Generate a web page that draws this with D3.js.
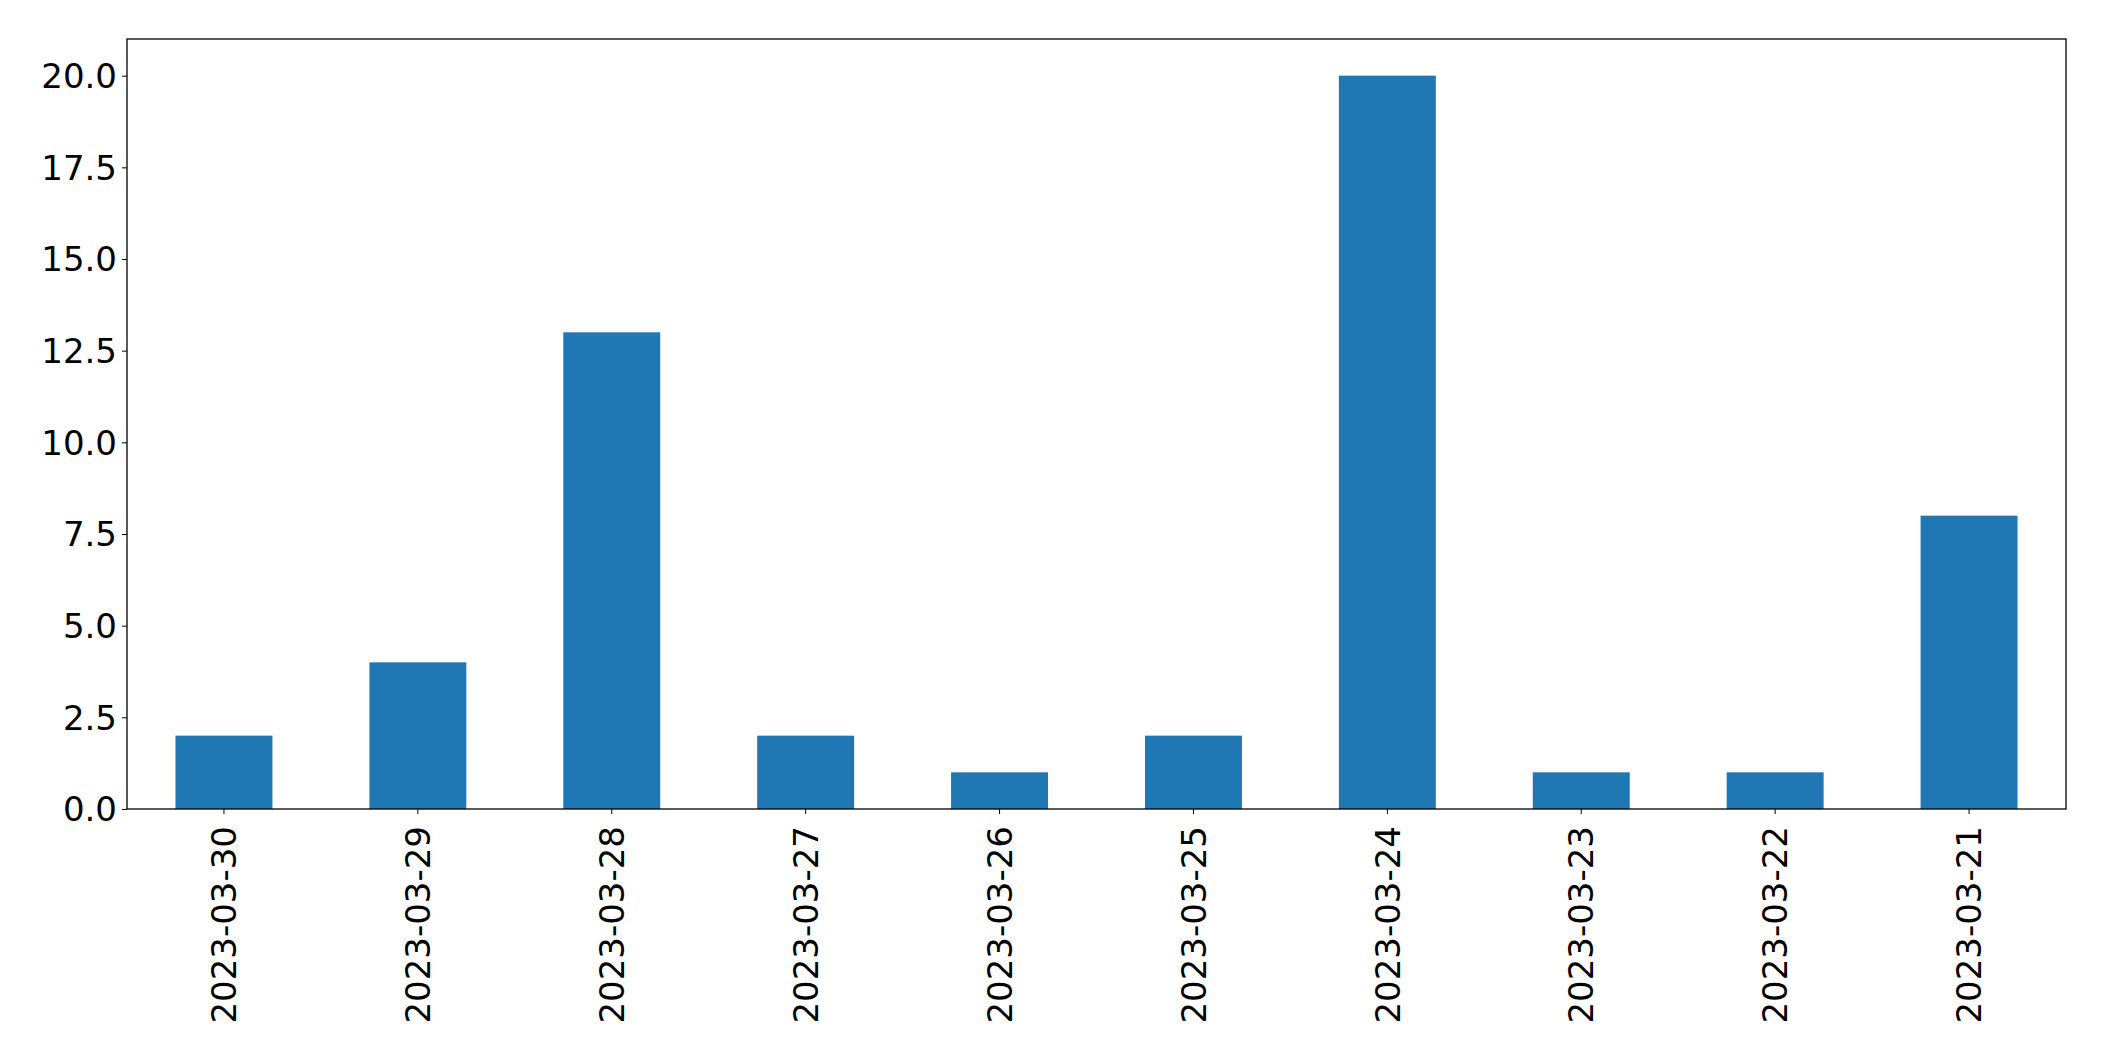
<!DOCTYPE html>
<html>
<head>
<meta charset="utf-8">
<script src="https://cdn.jsdelivr.net/npm/d3@7"></script>
<style>
  body { margin: 0; background: #fff; }
  svg text { font-family: "DejaVu Sans", sans-serif; }
</style>
</head>
<body>
<svg width="2104" height="1061"></svg>
<script>
// data
const dates = ["2023-03-30", "2023-03-29", "2023-03-28", "2023-03-27", "2023-03-26",
               "2023-03-25", "2023-03-24", "2023-03-23", "2023-03-22", "2023-03-21"];
const counts = [2, 4, 13, 2, 1, 2, 20, 1, 1, 8];
const yTicks = [0, 2.5, 5, 7.5, 10, 12.5, 15, 17.5, 20];

const width = 2104, height = 1061;
const margin = {top: 39, right: 38, bottom: 252, left: 127};
const fontSize = 34;

const svg = d3.select("svg");

const x = d3.scaleBand()
    .domain(dates)
    .range([margin.left, width - margin.right])
    .paddingInner(0.5)
    .paddingOuter(0.25);

const y = d3.scaleLinear()
    .domain([0, 21])
    .range([height - margin.bottom, margin.top]);

// bars
svg.selectAll(".bar")
    .data(counts)
    .enter().append("rect")
    .attr("class", "bar")
    .attr("x", (d, i) => x(dates[i]))
    .attr("y", d => y(d))
    .attr("width", x.bandwidth())
    .attr("height", d => y(0) - y(d))
    .attr("fill", "#1f77b4");

// y axis
const yAxis = svg.append("g")
    .attr("transform", `translate(${margin.left},0)`)
    .call(d3.axisLeft(y).tickValues(yTicks).tickFormat(d3.format(".1f")).tickSize(5).tickPadding(5));
yAxis.select(".domain").remove();
yAxis.selectAll("text").attr("font-size", fontSize).attr("fill", "#000").attr("dy", "0.35em");
yAxis.selectAll("line").attr("stroke", "#000");

// x axis
const xAxis = svg.append("g")
    .attr("transform", `translate(0,${height - margin.bottom})`)
    .call(d3.axisBottom(x).tickSize(5).tickPadding(0));
xAxis.select(".domain").remove();
xAxis.selectAll("line").attr("stroke", "#000");
xAxis.selectAll("text")
    .attr("font-size", fontSize)
    .attr("fill", "#000")
    .attr("text-anchor", "end")
    .attr("dy", null)
    .attr("y", 0)
    .attr("transform", "translate(0,17) rotate(-90) translate(0," + (fontSize * 0.36) + ")");

// frame
svg.append("rect")
    .attr("x", margin.left)
    .attr("y", margin.top)
    .attr("width", width - margin.left - margin.right)
    .attr("height", height - margin.top - margin.bottom)
    .attr("fill", "none")
    .attr("stroke", "#000")
    .attr("stroke-width", 1.3);
</script>
</body>
</html>
